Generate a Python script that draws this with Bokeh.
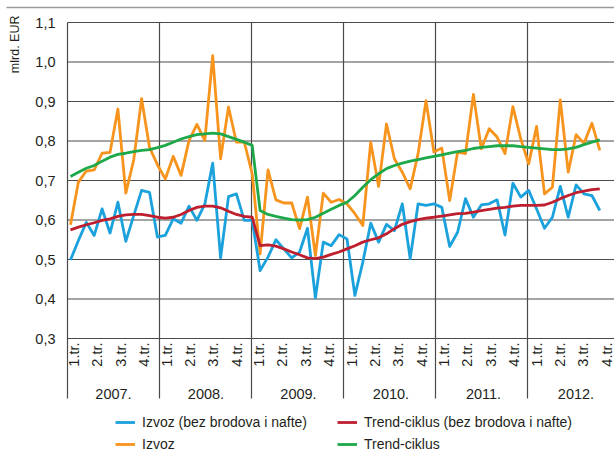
import math
from bokeh.plotting import figure
from bokeh.models import Legend, LegendItem, ColumnDataSource, Range1d
from bokeh.embed import file_html
from bokeh.resources import INLINE
from bokeh.core.properties import value

# ---------------- data ----------------
years = ["2007.", "2008.", "2009.", "2010.", "2011.", "2012."]
quarters = ["1.tr.", "2.tr.", "3.tr.", "4.tr."]
y_ticks = [0.3, 0.4, 0.5, 0.6, 0.7, 0.8, 0.9, 1.0, 1.1]
y_tick_labels = ["0,3", "0,4", "0,5", "0,6", "0,7", "0,8", "0,9", "1,0", "1,1"]

# monthly values, Jan 2007 - Aug 2012 (mlrd. EUR)
izvoz = [0.588, 0.696, 0.724, 0.727, 0.769, 0.771, 0.881, 0.668, 0.752, 0.907, 0.784, 0.740,
         0.704, 0.761, 0.713, 0.801, 0.842, 0.801, 1.016, 0.755, 0.886, 0.797, 0.797, 0.717,
         0.514, 0.727, 0.651, 0.643, 0.643, 0.578, 0.658, 0.510, 0.668, 0.645, 0.652, 0.641,
         0.616, 0.586, 0.797, 0.685, 0.843, 0.755, 0.721, 0.679, 0.768, 0.902, 0.772, 0.782,
         0.649, 0.772, 0.768, 0.918, 0.780, 0.831, 0.810, 0.768, 0.887, 0.805, 0.742, 0.837,
         0.666, 0.683, 0.904, 0.721, 0.816, 0.794, 0.845, 0.776]
izvoz_bbn = [0.499, 0.548, 0.594, 0.561, 0.628, 0.567, 0.645, 0.546, 0.611, 0.675, 0.670, 0.557,
             0.561, 0.603, 0.592, 0.635, 0.599, 0.640, 0.744, 0.504, 0.659, 0.666, 0.599, 0.599,
             0.472, 0.506, 0.550, 0.527, 0.504, 0.519, 0.579, 0.403, 0.544, 0.535, 0.563, 0.552,
             0.409, 0.493, 0.592, 0.544, 0.589, 0.573, 0.641, 0.502, 0.641, 0.637, 0.641, 0.632,
             0.533, 0.569, 0.654, 0.607, 0.638, 0.641, 0.651, 0.562, 0.693, 0.658, 0.675, 0.628,
             0.579, 0.607, 0.685, 0.607, 0.689, 0.666, 0.662, 0.624]
trend = [0.710, 0.721, 0.731, 0.738, 0.749, 0.759, 0.766, 0.769, 0.773, 0.776, 0.778, 0.783,
         0.789, 0.797, 0.805, 0.811, 0.816, 0.818, 0.820, 0.818, 0.811, 0.804, 0.797, 0.789,
         0.624, 0.614, 0.609, 0.605, 0.601, 0.600, 0.601, 0.607, 0.617, 0.627, 0.637, 0.645,
         0.662, 0.683, 0.702, 0.717, 0.730, 0.738, 0.744, 0.749, 0.753, 0.757, 0.761, 0.765,
         0.769, 0.773, 0.776, 0.781, 0.784, 0.786, 0.788, 0.788, 0.788, 0.786, 0.784, 0.782,
         0.780, 0.778, 0.778, 0.780, 0.784, 0.791, 0.797, 0.803]
trend_bbn = [0.575, 0.582, 0.588, 0.593, 0.599, 0.603, 0.609, 0.613, 0.614, 0.614, 0.611, 0.607,
             0.605, 0.607, 0.614, 0.624, 0.632, 0.635, 0.635, 0.631, 0.622, 0.614, 0.609, 0.607,
             0.535, 0.537, 0.534, 0.527, 0.519, 0.512, 0.504, 0.502, 0.506, 0.513, 0.519, 0.527,
             0.535, 0.544, 0.550, 0.555, 0.565, 0.578, 0.589, 0.596, 0.601, 0.605, 0.607, 0.610,
             0.613, 0.616, 0.617, 0.620, 0.624, 0.627, 0.630, 0.632, 0.635, 0.637, 0.637, 0.637,
             0.638, 0.645, 0.654, 0.662, 0.669, 0.673, 0.677, 0.679]
months = list(range(len(izvoz)))

# ---------------- layout helpers ----------------
FONT = "Liberation Sans"
TXT = "#231f20"
GRID = "#4a4a4a"
PX_M = 7.9      # px between monthly points
P0 = 70.0       # pixel x of the first month


def xpx(px):
    return (px - P0) / PX_M


def ypx(py):
    return 1.1 - (py - 22.0) / 395.0


W, H = 614, 452
p = figure(width=W, height=H, output_backend="svg", toolbar_location=None,
           x_range=Range1d(xpx(0), xpx(W)), y_range=Range1d(ypx(H), ypx(0)),
           x_axis_location=None, y_axis_location=None,
           min_border_left=0, min_border_right=0, min_border_top=0, min_border_bottom=0)
p.outline_line_color = None
p.background_fill_color = "white"
p.border_fill_color = "white"
p.grid.visible = False

# thin rule across the top
p.segment(x0=[xpx(6)], x1=[xpx(W)], y0=[ypx(7)], y1=[ypx(7)],
          line_color="#9a9a9a", line_width=1.6)

# horizontal grid lines at the value ticks
n = len(y_ticks)
p.segment(x0=[xpx(67)] * n, x1=[xpx(W)] * n, y0=y_ticks, y1=y_ticks,
          line_color=GRID, line_width=1.2)

# value tick labels
p.text(x=[xpx(55)] * n, y=y_ticks, text=y_tick_labels, text_align="right",
       text_baseline="middle", text_font=value(FONT), text_font_size="14.5px",
       text_color=TXT)

# unit label
p.text(x=[xpx(14)], y=[ypx(15)], text=["mlrd. EUR"], angle=math.pi / 2,
       text_align="right", text_baseline="middle", text_font=value(FONT),
       text_font_size="12.5px", text_color=TXT)

# year separator lines (incl. left edge)
sep_x = [xpx(67 + 92 * k) for k in range(len(years) + 1)]
p.segment(x0=sep_x, x1=sep_x, y0=[ypx(398)] * len(sep_x), y1=[1.1] * len(sep_x),
          line_color=GRID, line_width=1.2)

# quarter labels
qx, qt = [], []
for k in range(len(years)):
    for q, lab in enumerate(quarters):
        qx.append(xpx(73.5 + 92.5 * k + 23.4 * q))
        qt.append(lab)
p.text(x=qx, y=[ypx(342)] * len(qx), text=qt, angle=math.pi / 2,
       text_align="right", text_baseline="middle", text_font=value(FONT),
       text_font_size="14.5px", text_color=TXT)

# year labels
yx = [xpx(113 + 92.5 * k) for k in range(len(years))]
p.text(x=yx, y=[ypx(393)] * len(yx), text=years, text_align="center",
       text_baseline="middle", text_font=value(FONT), text_font_size="14.5px",
       text_color=TXT)

src = ColumnDataSource(dict(m=months, izvoz=izvoz, izvoz_bbn=izvoz_bbn,
                            trend=trend, trend_bbn=trend_bbn))
r_or = p.line("m", "izvoz", source=src, line_color="#F7941D", line_width=2.8, line_join="round")
r_bl = p.line("m", "izvoz_bbn", source=src, line_color="#1BA1DC", line_width=2.8, line_join="round")
r_gr = p.line("m", "trend", source=src, line_color="#1DA84A", line_width=2.8, line_join="round")
r_rd = p.line("m", "trend_bbn", source=src, line_color="#BE1E2D", line_width=2.8, line_join="round")


def make_legend(items, loc):
    return Legend(items=items, location=loc, margin=0, padding=0, spacing=6,
                  glyph_width=20, glyph_height=16, label_height=16, label_standoff=7,
                  label_text_font=FONT, label_text_font_size="14px",
                  label_text_color=TXT, border_line_color=None,
                  background_fill_alpha=0)


p.add_layout(make_legend([LegendItem(label="Izvoz (bez brodova i nafte)", renderers=[r_bl]),
                          LegendItem(label="Izvoz", renderers=[r_or])], (115, 0)))
p.add_layout(make_legend([LegendItem(label="Trend-ciklus (bez brodova i nafte)", renderers=[r_rd]),
                          LegendItem(label="Trend-ciklus", renderers=[r_gr])], (337, 0)))

open("out.html", "w").write(file_html(p, INLINE))
